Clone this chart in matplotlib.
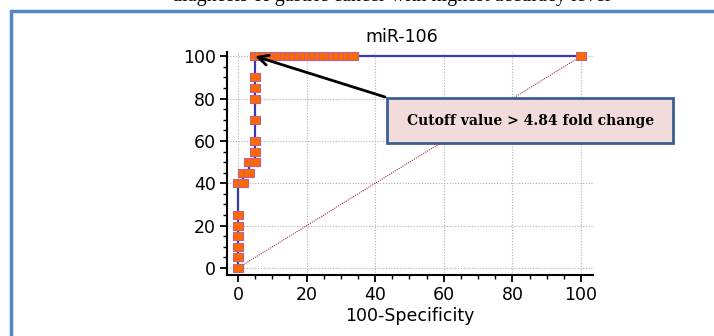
import matplotlib.pyplot as plt
from matplotlib.patches import Rectangle
from matplotlib.ticker import MultipleLocator

# ROC points for miR-106 (100-Specificity, Sensitivity)
fpr = [0, 0, 0, 0, 0, 0, 0, 1.5, 1.5, 3.3, 3.3, 5, 5, 5, 5, 5, 5, 5, 5,
       6.4, 7.8, 9.3, 10.7, 12.1, 13.6, 15.0, 16.4, 17.8, 19.3, 20.7,
       22.1, 23.6, 25.0, 26.4, 27.8, 29.3, 30.7, 32.1, 33.5, 100]
tpr = [0, 5, 10, 15, 20, 25, 40, 40, 45, 45, 50, 50, 55, 60, 70, 80, 85, 90, 100,
       100, 100, 100, 100, 100, 100, 100, 100, 100, 100, 100,
       100, 100, 100, 100, 100, 100, 100, 100, 100, 100]

title = "miR-106"
x_label = "100-Specificity"
note = "Cutoff value > 4.84 fold change"
caption = "diagnosis of gastric cancer with highest accuracy level"

fig = plt.figure(figsize=(7.14, 3.36), dpi=100)
fig.patch.set_facecolor("white")

# outer frame of the document figure
fig.add_artist(Rectangle((10.5 / 714, -0.1), 1.0, 1.1 - 11 / 336, transform=fig.transFigure,
                         fill=False, edgecolor="#5585c3", linewidth=2.5))
fig.text(0.548, 1.012, caption, ha="center", va="center", fontsize=14.5,
         family="Liberation Serif")

ax = fig.add_axes([227 / 714, 61 / 336, 366 / 714, 223 / 336])
ax.plot([0, 100], [0, 100], linestyle=(0, (1, 1)), color="#a83232", linewidth=0.8)
ax.plot(fpr, tpr, color="#3a3aa8", linewidth=1.6, zorder=3)
marker = [(-1.4, -1), (1.4, -1), (1.4, 1), (-1.4, 1), (-1.4, -1)]
ax.plot(fpr, tpr, linestyle="none", marker=marker, markersize=7.5,
        markerfacecolor="#ff6a00", markeredgecolor="#c06090", markeredgewidth=0.8, zorder=4)

ax.set_xlim(-3.2, 103.5)
ax.set_ylim(-3.3, 102)
ax.xaxis.set_major_locator(MultipleLocator(20))
ax.yaxis.set_major_locator(MultipleLocator(20))
ax.xaxis.set_minor_locator(MultipleLocator(5))
ax.yaxis.set_minor_locator(MultipleLocator(5))
ax.grid(True, which="major", linestyle=(0, (1, 1.5)), color="#b0b0b0", linewidth=0.8)
ax.set_axisbelow(True)
for side in ["top", "right"]:
    ax.spines[side].set_visible(False)
for side in ["left", "bottom"]:
    ax.spines[side].set_linewidth(1.5)
ax.tick_params(which="major", direction="out", length=5, width=1.3, labelsize=12.5, pad=3)
ax.tick_params(which="minor", direction="out", length=3, width=1)
ax.set_xlabel(x_label, fontsize=12.5, labelpad=2)
fig.text(402 / 714, 1 - 37 / 336, title, ha="center", va="center", fontsize=12.5)

# annotation box and arrow
fig.add_artist(Rectangle((387 / 714, 1 - 143 / 336), 286 / 714, 45 / 336, transform=fig.transFigure,
                         facecolor="#f2dcdb", edgecolor="#3d5f8f", linewidth=2, zorder=5))
fig.text(531 / 714, 1 - 121 / 336, note, ha="center", va="center", fontsize=10,
         fontweight="bold", family="DejaVu Serif", zorder=6)
ax.annotate("", xy=(5, 100), xycoords="data", xytext=(385 / 714, 1 - 97 / 336),
            textcoords="figure fraction",
            arrowprops=dict(arrowstyle="->", color="black", lw=2, mutation_scale=18,
                            shrinkA=0, shrinkB=0), zorder=6, annotation_clip=False)

plt.savefig("out.png", dpi=100)
